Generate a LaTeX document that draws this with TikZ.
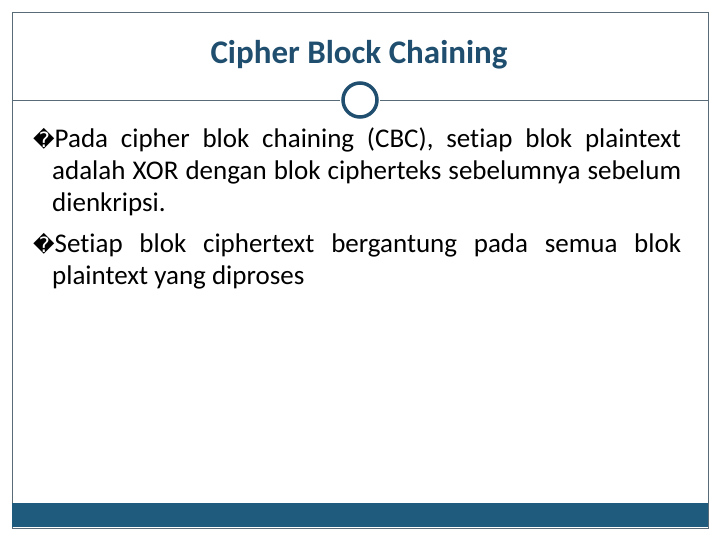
\documentclass[tikz,border=0pt]{standalone}
\usepackage{fontspec}
\setmainfont[Ligatures=NoCommon]{Carlito}
\newfontfamily\symfont{DejaVu Sans}
\definecolor{titleblue}{HTML}{1F4E6E}
\definecolor{barblue}{HTML}{1F5B7D}
\definecolor{frame}{HTML}{5A6B78}
\tikzset{rule/.style={draw=frame,line width=0.8pt}}
\begin{document}
\begin{tikzpicture}[x=1pt,y=-1pt]
\useasboundingbox (0,0) rectangle (720,540);
\draw[rule] (12,12) rectangle (708,528);
\fill[barblue] (12,503) rectangle (708,527);
\coordinate (l1) at (12,100); \coordinate (l2) at (340,100);
\coordinate (r1) at (380,100); \coordinate (r2) at (708,100);
\draw[rule] (l1) -- (l2); \draw[rule] (r1) -- (r2);
\node[circle,draw=titleblue,line width=3.5pt,fill=white,minimum size=34pt,inner sep=0] (ring) at (360,100) {};
\node[text=titleblue,font=\fontsize{33}{36}\selectfont\bfseries] (title) at (359,55) {Cipher Block Chaining};
\node[anchor=north west,inner sep=0,text width=648pt,align=justify,font=\fontsize{27}{32}\selectfont] (body) at (33,128) {%
\hangindent=19pt\hangafter=1{\symfont\fontsize{21}{32}\selectfont �}Pada cipher blok chaining (CBC), setiap blok plaintext\linebreak adalah XOR dengan blok cipherteks sebelumnya sebelum\linebreak dienkripsi.\par
\vspace{9pt}
\hangindent=19pt\hangafter=1{\symfont\fontsize{21}{32}\selectfont �}Setiap blok ciphertext bergantung pada semua blok\linebreak plaintext yang diproses\par};
\end{tikzpicture}
\end{document}
